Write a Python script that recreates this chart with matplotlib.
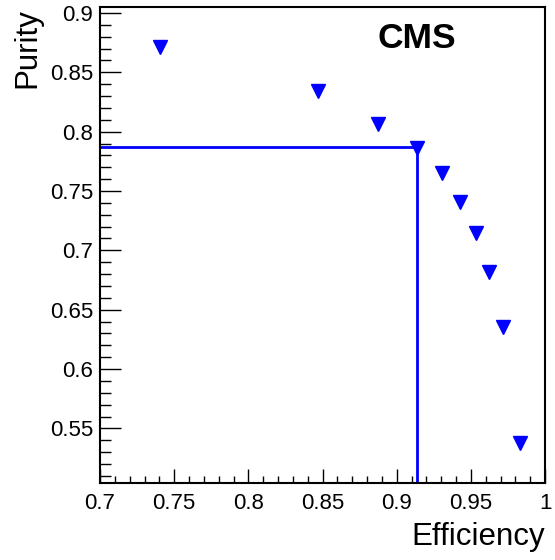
import matplotlib
matplotlib.use("Agg")
import matplotlib.pyplot as plt
from matplotlib.ticker import MultipleLocator

# efficiency / purity working points
efficiency = [0.7405, 0.847, 0.8875, 0.9137, 0.9304, 0.9425, 0.9538, 0.9623, 0.9718, 0.9832]
purity = [0.871, 0.834, 0.8064, 0.786, 0.7653, 0.7404, 0.7148, 0.6819, 0.6352, 0.5374]

# chosen working point (guide lines)
wp_eff = 0.9138
wp_pur = 0.7873

x_range = (0.7, 1.0)
y_range = (0.504, 0.905)

plt.rcParams['font.family'] = ['Liberation Sans', 'DejaVu Sans']

fig = plt.figure(figsize=(5.55, 5.6), dpi=100)
ax = fig.add_axes([0.1802, 0.1375, 0.8018, 0.85])

ax.plot([x_range[0], wp_eff], [wp_pur, wp_pur], color='#0000ff', lw=2)
ax.plot([wp_eff, wp_eff], [y_range[0], wp_pur], color='#0000ff', lw=2)
ax.plot(efficiency, purity, linestyle='none', marker='v', color='#0000ff', ms=9.5)

ax.set_xlim(*x_range)
ax.set_ylim(*y_range)

ax.xaxis.set_major_locator(MultipleLocator(0.05))
ax.xaxis.set_minor_locator(MultipleLocator(0.01))
ax.yaxis.set_major_locator(MultipleLocator(0.05))
ax.yaxis.set_minor_locator(MultipleLocator(0.01))

def fmt(v, pos):
    # ROOT style labels: 0.7, 0.75, ..., 1
    return f"{v:.2f}".rstrip('0').rstrip('.')
ax.xaxis.set_major_formatter(plt.FuncFormatter(fmt))
ax.yaxis.set_major_formatter(plt.FuncFormatter(fmt))

ax.tick_params(axis='x', which='major', direction='in', length=10, width=1, labelsize=16, pad=7)
ax.tick_params(axis='x', which='minor', direction='in', length=5, width=1)
ax.tick_params(axis='y', which='major', direction='in', length=15, width=1, labelsize=16, pad=5)
ax.tick_params(axis='y', which='minor', direction='in', length=8, width=1)
for sp in ax.spines.values():
    sp.set_linewidth(1.5)

fig.text(0.982, 0.015, "Efficiency", ha='right', va='bottom', fontsize=22.5)
fig.text(0.05, 0.985, "Purity", ha='center', va='top', rotation=90, fontsize=22.5)
fig.text(0.68, 0.932, "CMS", ha='left', va='center', fontsize=25.5, fontweight='bold')

fig.savefig("out.png", dpi=100)
